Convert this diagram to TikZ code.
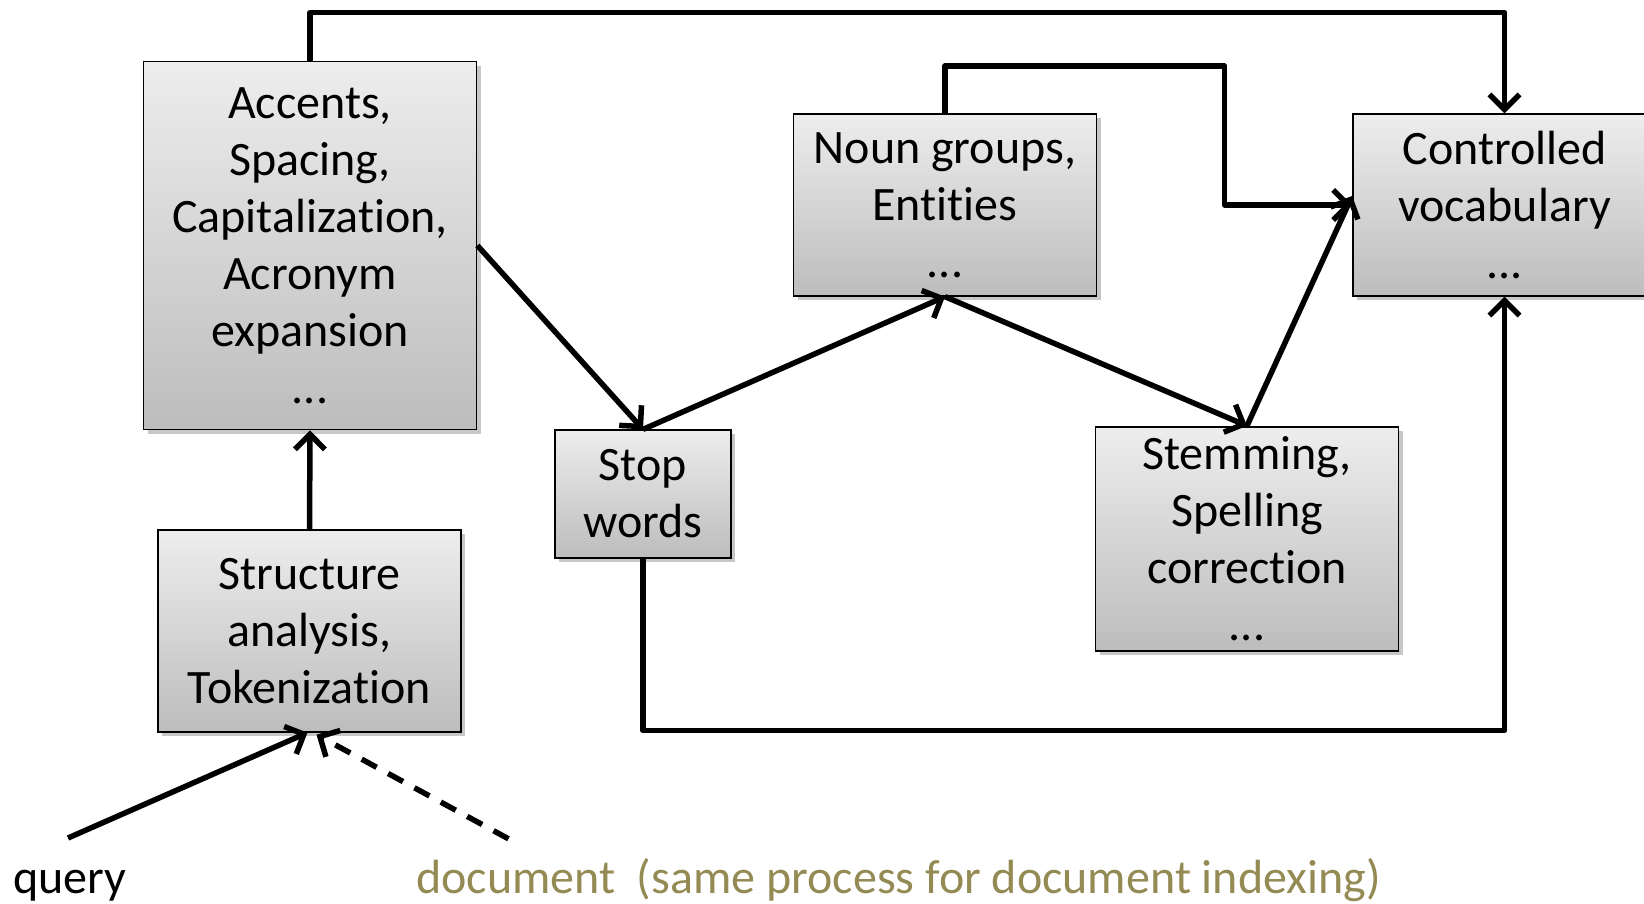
\documentclass[tikz,border=0pt]{standalone}
\usepackage{fontspec}
\setmainfont{Carlito}[Ligatures={NoCommon,NoRare,NoContextual}]
\usetikzlibrary{arrows.meta,shadows,calc}
\definecolor{doccol}{RGB}{148,138,84}
\tikzset{
  proc/.style={draw=black, line width=1.8pt, top color=black!7, bottom color=black!26,
    align=center, inner sep=0pt, font=\fontsize{48}{57}\selectfont,
    drop shadow={shadow xshift=4pt, shadow yshift=-4pt, opacity=0.22, fill=black}},
  conn/.style={line width=5.5pt, -{Straight Barb[length=15pt,width=30pt,line width=5.5pt]}, line join=round},
  lbl/.style={font=\fontsize{48}{57}\selectfont, inner sep=0pt, anchor=base west}
}
\begin{document}
\begin{tikzpicture}[x=1pt,y=-1pt]
\useasboundingbox (0,0) rectangle (1644,903);
\begin{scope}
\clip (0,0) rectangle (1644,903);
\node[proc, minimum width=333pt, minimum height=368pt] (acc) at (310,245.5)
  {Accents,\\Spacing,\\Capitalization,\\Acronym\\expansion\\...};
\node[proc, minimum width=303pt, minimum height=201.5pt] (str) at (309.5,631)
  {Structure\\analysis,\\Tokenization};
\node[proc, minimum width=176pt, minimum height=127.5pt] (stop) at (643,494)
  {Stop\\words};
\node[proc, minimum width=303pt, minimum height=181.5pt] (noun) at (945,205)
  {Noun groups,\\Entities\\...};
\node[proc, minimum width=303pt, minimum height=224.5pt] (stem) at (1247,539)
  {Stemming,\\Spelling\\correction\\...};
\node[proc, minimum width=303pt, minimum height=181.5pt] (ctrl) at (1504.5,205)
  {Controlled\\vocabulary\\...};
\end{scope}

\node[lbl] (q) at (13,893) {query};
\node[lbl, text=doccol] (doc) at (416,893) {document\ \ (same process for document indexing)};

\coordinate (qs) at (68,838);
\coordinate (ds) at (508.5,838.8);
\coordinate (n1) at (1224.6,66);

\draw[conn] (acc.north) -- ++(0,-48) -| (ctrl.north);
\draw[conn] (acc.east) -- (stop.north);
\draw[conn] (stop.north) -- (noun.south);
\draw[conn] (noun.south) -- (stem.north);
\draw[conn] (stem.north) -- ($(ctrl.west)+(0,-9)$);
\draw[conn] (noun.north) |- (n1) |- (ctrl.west);
\draw[conn] (stop.south) -- ++(0,172) -| (ctrl.south);
\draw[conn] (str.north) -- (acc.south);
\draw[conn] (qs) -- ($(str.south)+(-2,0)$);
\draw[conn, dash pattern=on 17pt off 13pt] (ds) -- ($(str.south)+(7,2)$);
\end{tikzpicture}
\end{document}
